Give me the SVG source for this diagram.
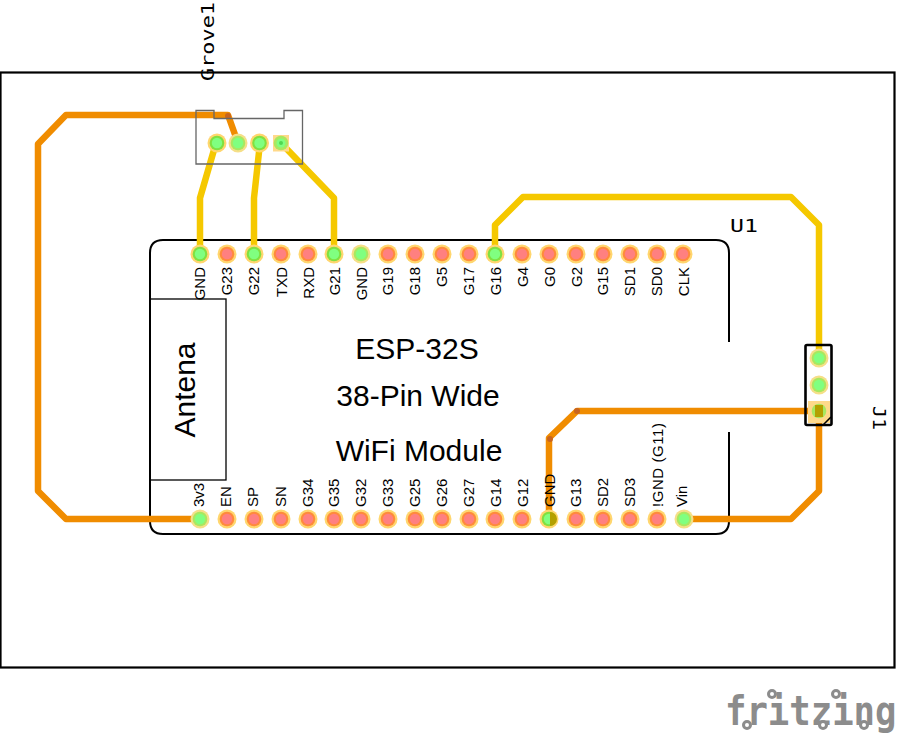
<svg xmlns="http://www.w3.org/2000/svg" width="900" height="738" viewBox="0 0 900 738">
<defs>
<style>
.t{fill:none;stroke-width:6.5;stroke-linejoin:round;stroke-linecap:butt}
.o{stroke:#f08c00}
.y{stroke:#f5c800}
.lb{font-family:"Liberation Sans",Arial,sans-serif;font-size:15px;fill:#000}
.ti{font-family:"Liberation Sans",Arial,sans-serif;font-size:30px;fill:#000;text-anchor:middle}
.mono{font-family:"DejaVu Sans Mono",monospace;font-size:18px;fill:#000}
.line{fill:none;stroke:#000;stroke-width:2}
.ring{fill:#fff;stroke:#8c8c8c;stroke-width:3}
</style>
<g id="padOff"><circle r="9.500" fill="#ffd66e"/><circle r="7.300" fill="#ff8a3c"/><circle r="5.200" fill="#ff8080"/></g>
<g id="padOn"><circle r="9.500" fill="#ffd66e"/><circle r="7.300" fill="#80e040"/><circle r="5.200" fill="#80ff80"/></g>
<g id="padDim"><circle r="9.500" fill="#f5df88"/><circle r="7.300" fill="#a8e860"/><circle r="5.200" fill="#80ff80"/></g>
</defs>
<rect width="900" height="738" fill="#fff"/>
<rect id="board" x="0.500" y="72.500" width="894" height="595" fill="#fff" stroke="#000" stroke-width="2.200"/>
<g id="outline-u1">
<path class="line" d="M729 342V253Q729 240 716 240H163Q150 240 150 253V521Q150 534 163 534H716Q729 534 729 521V432"/>
<rect x="150" y="299" width="76" height="181" fill="none" stroke="#000" stroke-width="1.300"/>
</g>
<g id="connectors">
<path class="t o" d="M199 519H66L38 491V144L66 115H228L238 143"/>
<path class="t o" d="M549 519V438L577 411H819"/>
<path class="t o" d="M684 519H791L819 491V411"/>
<path class="t y" d="M200 254V198L216 143"/>
<path class="t y" d="M254 254V198L260 143"/>
<path class="t y" d="M334 254V198L281 143"/>
<path class="t y" d="M495 254V225L523 197H791L819 225V358"/>
<g fill="#c8641e"><circle cx="228" cy="116" r="3"/><circle cx="550" cy="439" r="3"/><circle cx="577" cy="411" r="3"/></g>
</g>
<g id="grove1">
<path d="M196 110.500H214V118.500H284V110.500H302.500V164H196Z" fill="none" stroke="#666" stroke-width="1.300"/>
<rect x="273" y="135" width="16" height="16.500" fill="#ffd98a"/>
<use href="#padOn" x="217" y="143"/><use href="#padDim" x="238" y="143"/><use href="#padOn" x="259.500" y="143"/>
<circle cx="281" cy="143" r="7.300" fill="#a8e860"/><circle cx="281" cy="143" r="4.500" fill="#80ff80"/><circle cx="281" cy="143" r="2" fill="#50d850"/>
<text class="mono" transform="translate(214 81) rotate(-90)" textLength="79" lengthAdjust="spacingAndGlyphs">Grove1</text>
</g>
<g id="u1">
<text class="mono" x="730" y="232" textLength="28" lengthAdjust="spacingAndGlyphs">U1</text>
<text class="ti" x="417" y="359">ESP-32S</text>
<text class="ti" x="418" y="406">38-Pin Wide</text>
<text class="ti" x="419" y="461">WiFi Module</text>
<text class="ti" transform="translate(195 390) rotate(-90)">Antena</text>
<g id="pads-top">
<use href="#padOn" x="200" y="254"/><use href="#padOff" x="227" y="254"/><use href="#padOn" x="254" y="254"/><use href="#padOff" x="281" y="254"/><use href="#padOff" x="308" y="254"/><use href="#padOn" x="334" y="254"/><use href="#padDim" x="361" y="254"/><use href="#padOff" x="388" y="254"/><use href="#padOff" x="415" y="254"/><use href="#padOff" x="442" y="254"/><use href="#padOff" x="469" y="254"/><use href="#padOn" x="495" y="254"/><use href="#padOff" x="522" y="254"/><use href="#padOff" x="549" y="254"/><use href="#padOff" x="576" y="254"/><use href="#padOff" x="603" y="254"/><use href="#padOff" x="630" y="254"/><use href="#padOff" x="657" y="254"/><use href="#padOff" x="683" y="254"/>
</g>
<g id="pads-bottom">
<use href="#padDim" x="200" y="519"/><use href="#padOff" x="227" y="519"/><use href="#padOff" x="254" y="519"/><use href="#padOff" x="281" y="519"/><use href="#padOff" x="308" y="519"/><use href="#padOff" x="334" y="519"/><use href="#padOff" x="361" y="519"/><use href="#padOff" x="388" y="519"/><use href="#padOff" x="415" y="519"/><use href="#padOff" x="442" y="519"/><use href="#padOff" x="469" y="519"/><use href="#padOff" x="495" y="519"/><use href="#padOff" x="522" y="519"/><use href="#padOn" x="549" y="519"/><use href="#padOff" x="576" y="519"/><use href="#padOff" x="603" y="519"/><use href="#padOff" x="630" y="519"/><use href="#padOff" x="657" y="519"/><use href="#padDim" x="684" y="519"/>
<path d="M550 512v14a7 7 0 0 0 0-14Z" fill="#b4a000"/>
</g>
<g id="labels-top" class="lb">
<text transform="translate(205 267) rotate(-90)" text-anchor="end">GND</text>
<text transform="translate(232 267) rotate(-90)" text-anchor="end">G23</text>
<text transform="translate(259 267) rotate(-90)" text-anchor="end">G22</text>
<text transform="translate(286.500 267) rotate(-90)" text-anchor="end">TXD</text>
<text transform="translate(313.500 267) rotate(-90)" text-anchor="end">RXD</text>
<text transform="translate(339.500 267) rotate(-90)" text-anchor="end">G21</text>
<text transform="translate(366.500 267) rotate(-90)" text-anchor="end">GND</text>
<text transform="translate(393 267) rotate(-90)" text-anchor="end">G19</text>
<text transform="translate(420 267) rotate(-90)" text-anchor="end">G18</text>
<text transform="translate(447 267) rotate(-90)" text-anchor="end">G5</text>
<text transform="translate(474 267) rotate(-90)" text-anchor="end">G17</text>
<text transform="translate(501 267) rotate(-90)" text-anchor="end">G16</text>
<text transform="translate(528 267) rotate(-90)" text-anchor="end">G4</text>
<text transform="translate(555 267) rotate(-90)" text-anchor="end">G0</text>
<text transform="translate(582 267) rotate(-90)" text-anchor="end">G2</text>
<text transform="translate(608 267) rotate(-90)" text-anchor="end">G15</text>
<text transform="translate(635 267) rotate(-90)" text-anchor="end">SD1</text>
<text transform="translate(662 267) rotate(-90)" text-anchor="end">SD0</text>
<text transform="translate(689 267) rotate(-90)" text-anchor="end">CLK</text>
</g>
<g id="labels-bottom" class="lb">
<text transform="translate(203.500 507) rotate(-90)">3v3</text>
<text transform="translate(231 507) rotate(-90)">EN</text>
<text transform="translate(258 507) rotate(-90)">SP</text>
<text transform="translate(286 507) rotate(-90)">SN</text>
<text transform="translate(312.500 507) rotate(-90)">G34</text>
<text transform="translate(339 507) rotate(-90)">G35</text>
<text transform="translate(366 507) rotate(-90)">G32</text>
<text transform="translate(393 507) rotate(-90)">G33</text>
<text transform="translate(420 507) rotate(-90)">G25</text>
<text transform="translate(447 507) rotate(-90)">G26</text>
<text transform="translate(474 507) rotate(-90)">G27</text>
<text transform="translate(501 507) rotate(-90)">G14</text>
<text transform="translate(528 507) rotate(-90)">G12</text>
<text transform="translate(554.500 507) rotate(-90)">GND</text>
<text transform="translate(581 507) rotate(-90)">G13</text>
<text transform="translate(608 507) rotate(-90)">SD2</text>
<text transform="translate(635 507) rotate(-90)">SD3</text>
<text transform="translate(663 507) rotate(-90)" textLength="84">!GND (G11)</text>
<text transform="translate(687 507) rotate(-90)">Vin</text>
</g>
</g>
<g id="j1">
<rect x="808" y="401" width="22" height="22" fill="#ffd98a"/>
<use href="#padDim" x="819" y="358"/><use href="#padDim" x="819" y="385"/>
<circle cx="819" cy="411" r="7.300" fill="#a8e860"/><rect x="815" y="405" width="8" height="12" fill="#b4a000"/>
<rect x="805.500" y="345" width="26" height="80" rx="1.500" fill="none" stroke="#000" stroke-width="2.600"/>
<path d="M823 425L831 417" stroke="#000" stroke-width="1.600"/>
<text class="mono" transform="translate(873 406) rotate(90)" textLength="24" lengthAdjust="spacingAndGlyphs">J1</text>
</g>
<g id="fritzing-logo">
<text transform="translate(725 725) scale(.89 1)" font-family="'DejaVu Sans Mono',monospace" font-weight="700" font-size="40" fill="#8c8c8c">fritzing</text>
<circle class="ring" cx="747" cy="725" r="3.500"/><circle class="ring" cx="772" cy="694" r="3.500"/><circle class="ring" cx="823" cy="725" r="3.500"/><circle class="ring" cx="836" cy="694" r="3.500"/><circle class="ring" cx="864" cy="725" r="3.500"/>
</g>
</svg>
